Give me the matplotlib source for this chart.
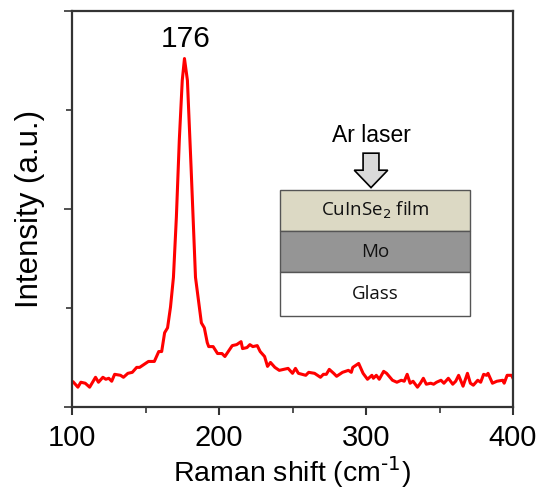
import matplotlib
matplotlib.use("Agg")
import matplotlib.pyplot as plt
from matplotlib.patches import Rectangle, Polygon

plt.rcParams['font.family'] = ['Liberation Sans', 'DejaVu Sans']

raman_shift = [101, 104, 106, 109, 112, 116, 118, 121, 123, 125, 127, 129, 133, 135, 138,
               141, 144, 146, 150, 152, 156, 159, 161, 163, 165, 167, 169, 171, 173, 175,
               176.5, 178.5, 181, 184, 186, 188, 190, 192, 193, 196, 199, 202, 204, 209,
               212, 215, 216, 219, 221, 223, 226, 228, 231, 233, 235, 238, 241, 247, 250,
               252, 254, 259, 261, 265, 269, 271, 273, 275, 278, 280, 284, 288, 290, 291,
               295, 298, 301, 304, 305, 307, 309, 312, 314, 318, 321, 324, 326, 328, 330,
               332, 335, 337, 339, 341, 344, 346, 348, 351, 353, 356, 359, 361, 363, 366,
               369, 371, 373, 376, 378, 380, 382, 383, 386, 389, 393, 394, 396, 399, 400]
intensity = [0.25, 0.20, 0.25, 0.24, 0.20, 0.30, 0.25, 0.30, 0.28, 0.29, 0.26, 0.33, 0.32, 0.30, 0.34,
             0.35, 0.40, 0.40, 0.44, 0.46, 0.46, 0.56, 0.56, 0.75, 0.80, 1.01, 1.31, 1.92, 2.70, 3.30,
             3.52, 3.30, 2.42, 1.31, 1.08, 0.85, 0.80, 0.65, 0.61, 0.61, 0.54, 0.54, 0.51, 0.62,
             0.63, 0.66, 0.59, 0.60, 0.63, 0.61, 0.62, 0.56, 0.51, 0.41, 0.45, 0.40, 0.37, 0.39, 0.34,
             0.39, 0.34, 0.32, 0.35, 0.34, 0.30, 0.33, 0.33, 0.38, 0.34, 0.31, 0.35, 0.37, 0.35, 0.40,
             0.44, 0.34, 0.28, 0.32, 0.29, 0.32, 0.28, 0.36, 0.34, 0.27, 0.25, 0.27, 0.26, 0.33, 0.24,
             0.26, 0.20, 0.24, 0.29, 0.23, 0.24, 0.23, 0.25, 0.27, 0.24, 0.29, 0.23, 0.26, 0.32, 0.21,
             0.34, 0.24, 0.22, 0.27, 0.25, 0.33, 0.32, 0.34, 0.24, 0.26, 0.27, 0.24, 0.32, 0.32, 0.29]

x_ticks = [100, 200, 300, 400]
peak_label = "176"
peak_pos = 177.5
peak_val = 3.52
layers = ["CuInSe$_2$ film", "Mo", "Glass"]
layer_colors = ["#dcd9c4", "#959595", "#ffffff"]

fig = plt.figure(figsize=(5.39, 4.92), dpi=100)
ax = fig.add_axes([0.1336, 0.1728, 0.8182, 0.8048])

ax.plot(raman_shift, intensity, color="#ff0000", lw=2.2)
ax.set_xlim(100, 400)
ax.set_ylim(0, 4)

ax.set_xticks(x_ticks)
ax.set_xticklabels([str(v) for v in x_ticks], fontsize=21)
ax.set_xticks([150, 250, 350], minor=True)
ax.set_yticks([0, 2, 4])
ax.set_yticks([1, 3], minor=True)
ax.set_yticklabels([])
ax.tick_params(axis='x', which='major', direction='out', length=6, width=1.5,
               color='#333333', pad=6)
ax.tick_params(axis='x', which='minor', direction='out', length=4, width=1.2, color='#333333')
ax.tick_params(axis='y', which='major', direction='out', length=6, width=1.2, color='#333333')
ax.tick_params(axis='y', which='minor', direction='out', length=4, width=1.2, color='#333333')
for s in ax.spines.values():
    s.set_linewidth(1.6)
    s.set_color('#333333')

ax.set_xlabel("Raman shift (cm$^{\\text{-1}}$)", fontsize=20.5, labelpad=2)
ax.set_ylabel("Intensity (a.u.)", fontsize=22.5, labelpad=10)

ax.annotate(peak_label, xy=(peak_pos, peak_val), xytext=(0, 4), textcoords='offset points',
            ha='center', va='bottom', fontsize=21.5)

# inset schematic (axes-fraction coordinates)
left, right = 0.4717, 0.9025
bounds = [0.548, 0.444, 0.341, 0.2298]
for i, (name, col) in enumerate(zip(layers, layer_colors)):
    top, bot = bounds[i], bounds[i + 1]
    ax.add_patch(Rectangle((left, bot), right - left, top - bot, transform=ax.transAxes,
                           facecolor=col, edgecolor='#555555', lw=1.0, zorder=3))
    ax.text((left + right) / 2, (top + bot) / 2, name, transform=ax.transAxes,
            ha='center', va='center', fontsize=13.5, family=['Open Sans', 'DejaVu Sans'],
            color='#111111', zorder=4)

cx = 0.678
arrow = [(cx - 0.018, 0.641), (cx + 0.018, 0.641), (cx + 0.018, 0.598), (cx + 0.038, 0.598),
         (cx, 0.554), (cx - 0.038, 0.598), (cx - 0.018, 0.598)]
ax.add_patch(Polygon(arrow, closed=True, transform=ax.transAxes, facecolor='#d9d9d9',
                     edgecolor='black', lw=1.2, zorder=4))
ax.text(cx, 0.686, "Ar laser", transform=ax.transAxes, ha='center', va='center', fontsize=16.5)

fig.savefig("out.png", dpi=100)
